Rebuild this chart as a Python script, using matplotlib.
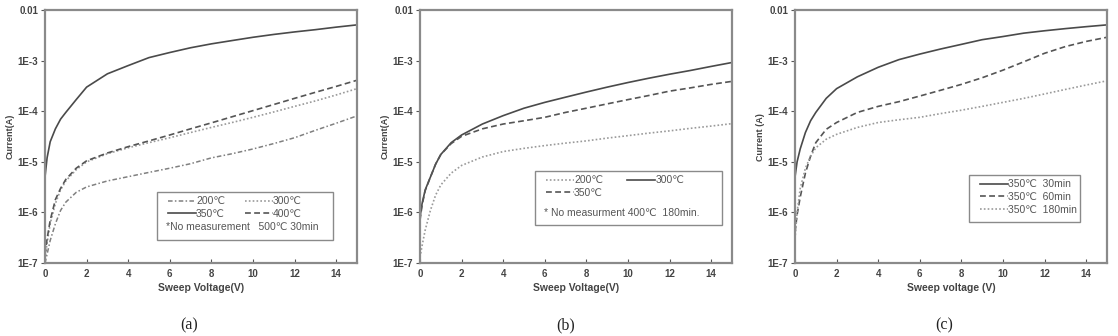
import numpy as np
import matplotlib.pyplot as plt
from matplotlib.patches import Rectangle

plt.rcParams['font.family'] = ['Liberation Sans', 'DejaVu Sans']

# sweep voltage points (V)
volts = [0, 0.1, 0.25, 0.5, 0.75, 1, 1.5, 2, 3, 4, 5, 6, 7, 8, 9, 10, 11, 12, 13, 14, 15]

# (a) 30 min anneal, different temperatures
a_200 = [1e-7, 1.5e-7, 2.8e-7, 6e-7, 1.1e-6, 1.6e-6, 2.5e-6, 3.2e-6, 4.2e-6, 5.1e-6, 6.2e-6,
         7.5e-6, 9.2e-6, 1.2e-5, 1.45e-5, 1.8e-5, 2.3e-5, 3e-5, 4.2e-5, 5.8e-5, 8.1e-5]
a_300 = [1.2e-7, 2.5e-7, 6e-7, 1.5e-6, 2.8e-6, 4.2e-6, 7e-6, 1e-5, 1.45e-5, 1.9e-5, 2.4e-5,
         3e-5, 3.8e-5, 4.8e-5, 6e-5, 7.6e-5, 9.7e-5, 1.25e-4, 1.6e-4, 2.1e-4, 2.8e-4]
a_350 = [5e-6, 1.2e-5, 2.5e-5, 4.5e-5, 7e-5, 9.5e-5, 1.7e-4, 3e-4, 5.5e-4, 8e-4, 1.15e-3,
         1.45e-3, 1.8e-3, 2.15e-3, 2.5e-3, 2.9e-3, 3.3e-3, 3.7e-3, 4.1e-3, 4.6e-3, 5.1e-3]
a_400 = [1.5e-7, 3e-7, 7e-7, 1.8e-6, 3e-6, 4.5e-6, 7.5e-6, 1.05e-5, 1.5e-5, 2e-5, 2.6e-5,
         3.4e-5, 4.5e-5, 5.9e-5, 7.8e-5, 1.03e-4, 1.36e-4, 1.8e-4, 2.37e-4, 3.1e-4, 4.1e-4]

# (b) 180 min anneal
b_200 = [1.3e-7, 2.2e-7, 4.5e-7, 1.1e-6, 2.2e-6, 3.5e-6, 6e-6, 8.5e-6, 1.25e-5, 1.6e-5, 1.85e-5,
         2.1e-5, 2.35e-5, 2.6e-5, 2.95e-5, 3.3e-5, 3.7e-5, 4.1e-5, 4.6e-5, 5.1e-5, 5.7e-5]
b_300 = [8e-7, 1.5e-6, 2.8e-6, 5e-6, 9e-6, 1.4e-5, 2.4e-5, 3.4e-5, 5.6e-5, 8.2e-5, 1.15e-4,
         1.5e-4, 1.9e-4, 2.4e-4, 3e-4, 3.7e-4, 4.5e-4, 5.4e-4, 6.4e-4, 7.7e-4, 9.2e-4]
b_350 = [7e-7, 1.4e-6, 2.7e-6, 5e-6, 9e-6, 1.4e-5, 2.3e-5, 3.2e-5, 4.5e-5, 5.6e-5, 6.5e-5,
         7.6e-5, 9.5e-5, 1.15e-4, 1.4e-4, 1.7e-4, 2.05e-4, 2.5e-4, 2.9e-4, 3.4e-4, 3.9e-4]

# (c) 350 C, different times
c_30 = [5e-6, 1e-5, 1.8e-5, 3.8e-5, 6.5e-5, 9.5e-5, 1.8e-4, 2.8e-4, 4.8e-4, 7.4e-4, 1.05e-3,
        1.35e-3, 1.7e-3, 2.1e-3, 2.6e-3, 3e-3, 3.5e-3, 3.9e-3, 4.3e-3, 4.7e-3, 5.1e-3]
c_60 = [4e-7, 9e-7, 2e-6, 6e-6, 1.3e-5, 2.4e-5, 4.4e-5, 6e-5, 9.5e-5, 1.25e-4, 1.55e-4,
        2e-4, 2.6e-4, 3.4e-4, 4.6e-4, 6.5e-4, 9.5e-4, 1.4e-3, 1.9e-3, 2.4e-3, 2.9e-3]
c_180 = [3e-7, 1e-6, 3e-6, 7.5e-6, 1.3e-5, 1.9e-5, 2.8e-5, 3.5e-5, 4.8e-5, 6e-5, 6.8e-5,
         7.6e-5, 9e-5, 1.05e-4, 1.25e-4, 1.5e-4, 1.8e-4, 2.2e-4, 2.7e-4, 3.3e-4, 4e-4]

y_ticks = [1e-7, 1e-6, 1e-5, 1e-4, 1e-3, 1e-2]
y_tick_labels = ['1E-7', '1E-6', '1E-5', '1E-4', '1E-3', '0.01']
x_ticks = [0, 2, 4, 6, 8, 10, 12, 14]

SOLID = dict(color='#4a4a4a', ls='-', lw=1.2)
DASH = dict(color='#555555', ls=(0, (3.5, 2)), lw=1.2)
DOT = dict(color='#9a9a9a', ls=(0, (1, 1.3)), lw=1.2)
DASHDOT = dict(color='#808080', ls=(0, (3, 1.5, 1, 1.5)), lw=1.1)

fig = plt.figure(figsize=(11.18, 3.36), dpi=100)
lefts = [45 / 1118, 420 / 1118, 795 / 1118]
axes = [fig.add_axes([l, 0.217, 0.279, 0.753]) for l in lefts]


def style(ax, xlabel, ylabel):
    ax.set_yscale('log')
    ax.set_xlim(0, 15)
    ax.set_ylim(1e-7, 1e-2)
    ax.yaxis.set_minor_locator(plt.NullLocator())
    ax.set_yticks(y_ticks)
    ax.set_yticklabels(y_tick_labels)
    ax.set_xticks(x_ticks)
    ax.tick_params(axis='x', direction='in', length=3, width=0.8, color='#555',
                   labelsize=7, pad=4)
    ax.tick_params(axis='y', direction='out', length=3, width=0.8, color='#555',
                   labelsize=7, pad=2)
    for lab in ax.get_xticklabels() + ax.get_yticklabels():
        lab.set_fontweight('bold')
        lab.set_color('#444')
    for s in ax.spines.values():
        s.set_color('#8a8a8a')
        s.set_linewidth(1.6)
    ax.set_xlabel(xlabel, fontsize=7.5, fontweight='bold', color='#444', labelpad=3)
    ax.set_ylabel(ylabel, fontsize=6.5, fontweight='bold', color='#444', labelpad=2)


def boxed_legend(ax, handles, labels, ncol, box, note=None, colsp=1.6):
    x0, y0, x1, y1 = box
    ax.add_patch(Rectangle((x0, y0), x1 - x0, y1 - y0, transform=ax.transAxes,
                           fill=True, facecolor='white', edgecolor='#8a8a8a',
                           lw=1.0, zorder=5))
    leg = ax.legend(handles, labels, ncol=ncol, loc='upper left',
                    bbox_to_anchor=(x0 + 0.025, y1 - 0.005), frameon=False,
                    fontsize=7.5, handlelength=2.7, handletextpad=0.0,
                    labelspacing=0.25, columnspacing=colsp, borderaxespad=0,
                    borderpad=0.3)
    leg.set_zorder(6)
    for t in leg.get_texts():
        t.set_color('#555')
    if note:
        ax.text(x0 + 0.03, y0 + 0.03, note, transform=ax.transAxes, fontsize=7.5,
                color='#555', zorder=7, va='bottom')


# (a)
ax = axes[0]
style(ax, 'Sweep Voltage(V)', 'Current(A)')
h200, = ax.plot(volts, a_200, **DASHDOT)
h300, = ax.plot(volts, a_300, **DOT)
h350, = ax.plot(volts, a_350, **SOLID)
h400, = ax.plot(volts, a_400, **DASH)
boxed_legend(ax, [h200, h350, h300, h400], ['200℃', '350℃', '300℃', '400℃'], 2,
             (0.359, 0.091, 0.923, 0.281), note='*No measurement   500℃ 30min',
             colsp=1.9)

# (b)
ax = axes[1]
style(ax, 'Sweep Voltage(V)', 'Current(A)')
h200, = ax.plot(volts, b_200, **DOT)
h300, = ax.plot(volts, b_300, **SOLID)
h350, = ax.plot(volts, b_350, **DASH)
boxed_legend(ax, [h200, h350, h300], ['200℃', '350℃', '300℃'], 2,
             (0.369, 0.150, 0.968, 0.364), note='* No measurment 400℃  180min.',
             colsp=2.3)

# (c)
ax = axes[2]
style(ax, 'Sweep voltage (V)', 'Current (A)')
h30, = ax.plot(volts, c_30, **SOLID)
h60, = ax.plot(volts, c_60, **DASH)
h180, = ax.plot(volts, c_180, **DOT)
boxed_legend(ax, [h30, h60, h180], ['350℃  30min', '350℃  60min', '350℃  180min'], 1,
             (0.558, 0.162, 0.913, 0.348))

# panel captions
for xpix, cap in zip([189, 566, 944], ['(a)', '(b)', '(c)']):
    fig.text(xpix / 1118, 1 - 325 / 336, cap, ha='center', va='center',
             fontsize=11.5, family='Liberation Serif', color='#222')

fig.savefig('out.png', dpi=100, facecolor='white')
